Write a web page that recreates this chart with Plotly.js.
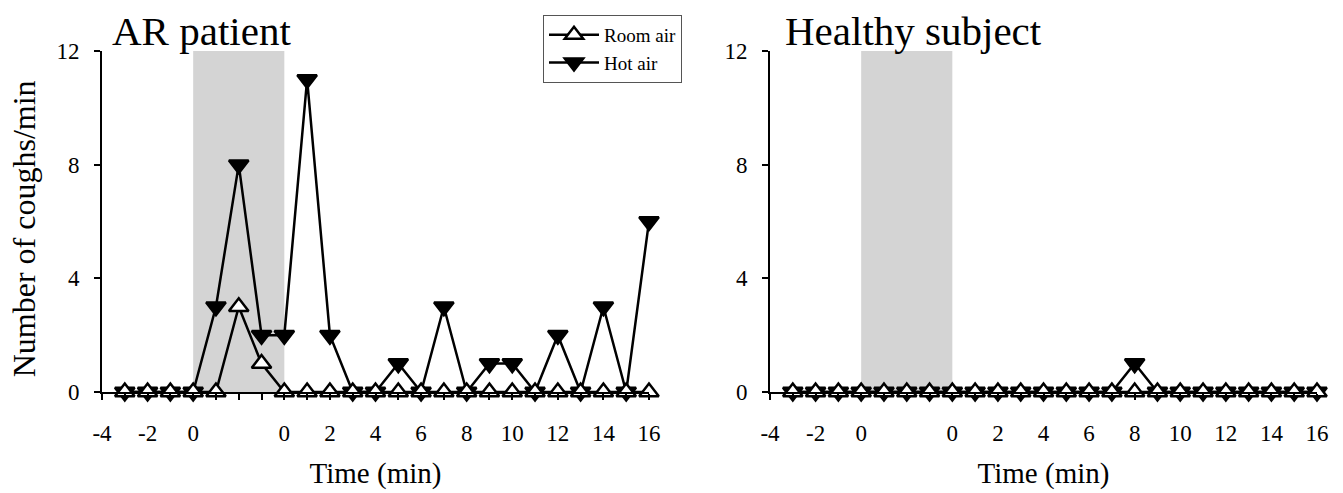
<!DOCTYPE html>
<html>
<head>
<meta charset="utf-8">
<script src="https://cdn.plot.ly/plotly-3.0.1.min.js"></script>
<style>html,body{margin:0;padding:0;background:#fff;}#chart{width:1343px;height:493px;}</style>
</head>
<body>
<div id="chart"></div>
<script>
// Positions on a continuous axis: -4..0 pre-exposure, 0..4 exposure (shaded), then time + 4
const positions = [-3,-2,-1,0,1,2,3,4,5,6,7,8,9,10,11,12,13,14,15,16,17,18,19,20];
const arRoom    = [0,0,0,0,0,3,1,0,0,0,0,0,0,0,0,0,0,0,0,0,0,0,0,0];
const arHot     = [0,0,0,0,3,8,2,2,11,2,0,0,1,0,3,0,1,1,0,2,0,3,0,6];
const hsRoom    = [0,0,0,0,0,0,0,0,0,0,0,0,0,0,0,0,0,0,0,0,0,0,0,0];
const hsHot     = [0,0,0,0,0,0,0,0,0,0,0,0,0,0,0,1,0,0,0,0,0,0,0,0];
const tickVals  = [-4,-2,0,4,6,8,10,12,14,16,18,20];
const tickText  = ['-4','-2','0','0','2','4','6','8','10','12','14','16'];
const exposure  = [0,4];
const yTicks    = [0,4,8,12];

const FONT = 'Liberation Serif, Times New Roman, serif';

function room(x, y, xa, ya, show){
  return {x:x, y:y, xaxis:xa, yaxis:ya, type:'scatter', mode:'lines+markers', name:'Room air',
    legendrank:1, showlegend:show, cliponaxis:false,
    line:{color:'#000', width:2.5},
    marker:{symbol:'triangle-up', size:17, color:'#fff', line:{color:'#000', width:2.5}}};
}
function hot(x, y, xa, ya, show){
  return {x:x, y:y, xaxis:xa, yaxis:ya, type:'scatter', mode:'lines+markers', name:'Hot air',
    legendrank:2, showlegend:show, cliponaxis:false,
    line:{color:'#000', width:2.5},
    marker:{symbol:'triangle-down', size:17, color:'#000', line:{color:'#000', width:2.5}}};
}

const data = [
  hot(positions, arHot, 'x', 'y', true),
  room(positions, arRoom, 'x', 'y', true),
  hot(positions, hsHot, 'x2', 'y2', false),
  room(positions, hsRoom, 'x2', 'y2', false)
];

function xax(domain, anchor){
  return {domain:domain, anchor:anchor, range:[-4,20], showgrid:false, zeroline:false,
    showline:true, linecolor:'#000', linewidth:2, automargin:false,
    tickmode:'array', tickvals:tickVals, ticktext:tickText, tickangle:0,
    ticks:'outside', ticklen:6, tickwidth:2, tickcolor:'#000',
    minor:{tickmode:'linear', tick0:-4, dtick:1, ticks:'outside', ticklen:6, tickwidth:2, tickcolor:'#000', showgrid:false},
    tickfont:{family:FONT, size:23, color:'#000'}, ticklabelstandoff:13,
    title:{text:'Time (min)', font:{family:FONT, size:29, color:'#000'}, standoff:18}};
}
function yax(anchor){
  return {domain:[0,1], anchor:anchor, range:[0,12], showgrid:false, zeroline:false,
    showline:true, linecolor:'#000', linewidth:2, automargin:false,
    tickmode:'array', tickvals:yTicks,
    ticks:'outside', ticklen:6, tickwidth:2, tickcolor:'#000',
    tickfont:{family:FONT, size:23, color:'#000'}, ticklabelstandoff:10};
}

const layout = {
  width:1343, height:493,
  margin:{l:102, r:26, t:51, b:101, autoexpand:false},
  paper_bgcolor:'#fff', plot_bgcolor:'rgba(0,0,0,0)',
  font:{family:FONT, color:'#000'},
  xaxis: xax([0, 0.4502], 'y'),
  yaxis: yax('x'),
  xaxis2: xax([0.5498, 1], 'y2'),
  yaxis2: yax('x2'),
  shapes:[
    {type:'rect', xref:'x', yref:'y', x0:exposure[0], x1:exposure[1], y0:0, y1:12, fillcolor:'#d4d4d4', line:{width:0}, layer:'below'},
    {type:'rect', xref:'x2', yref:'y2', x0:exposure[0], x1:exposure[1], y0:0, y1:12, fillcolor:'#d4d4d4', line:{width:0}, layer:'below'}
  ],
  annotations:[
    {text:'AR patient', xref:'paper', yref:'paper', x:0.0823, y:1.06, xanchor:'center', yanchor:'middle', showarrow:false, font:{family:FONT, size:41, color:'#000'}},
    {text:'Healthy subject', xref:'paper', yref:'paper', x:0.6675, y:1.06, xanchor:'center', yanchor:'middle', showarrow:false, font:{family:FONT, size:41, color:'#000'}},
    {text:'Number of coughs/min', xref:'paper', yref:'paper', x:-0.064, y:0.478, xanchor:'center', yanchor:'middle', textangle:-90, showarrow:false, font:{family:FONT, size:32, color:'#000'}}
  ],
  legend:{xref:'container', yref:'container', x:543/1343, y:1-15/493, xanchor:'left', yanchor:'top',
    bordercolor:'#555', borderwidth:1, bgcolor:'#fff', font:{family:FONT, size:19, color:'#000'},
    tracegroupgap:0, itemwidth:50}
};

Plotly.newPlot('chart', data, layout, {displayModeBar:false, staticPlot:true});
</script>
</body>
</html>
